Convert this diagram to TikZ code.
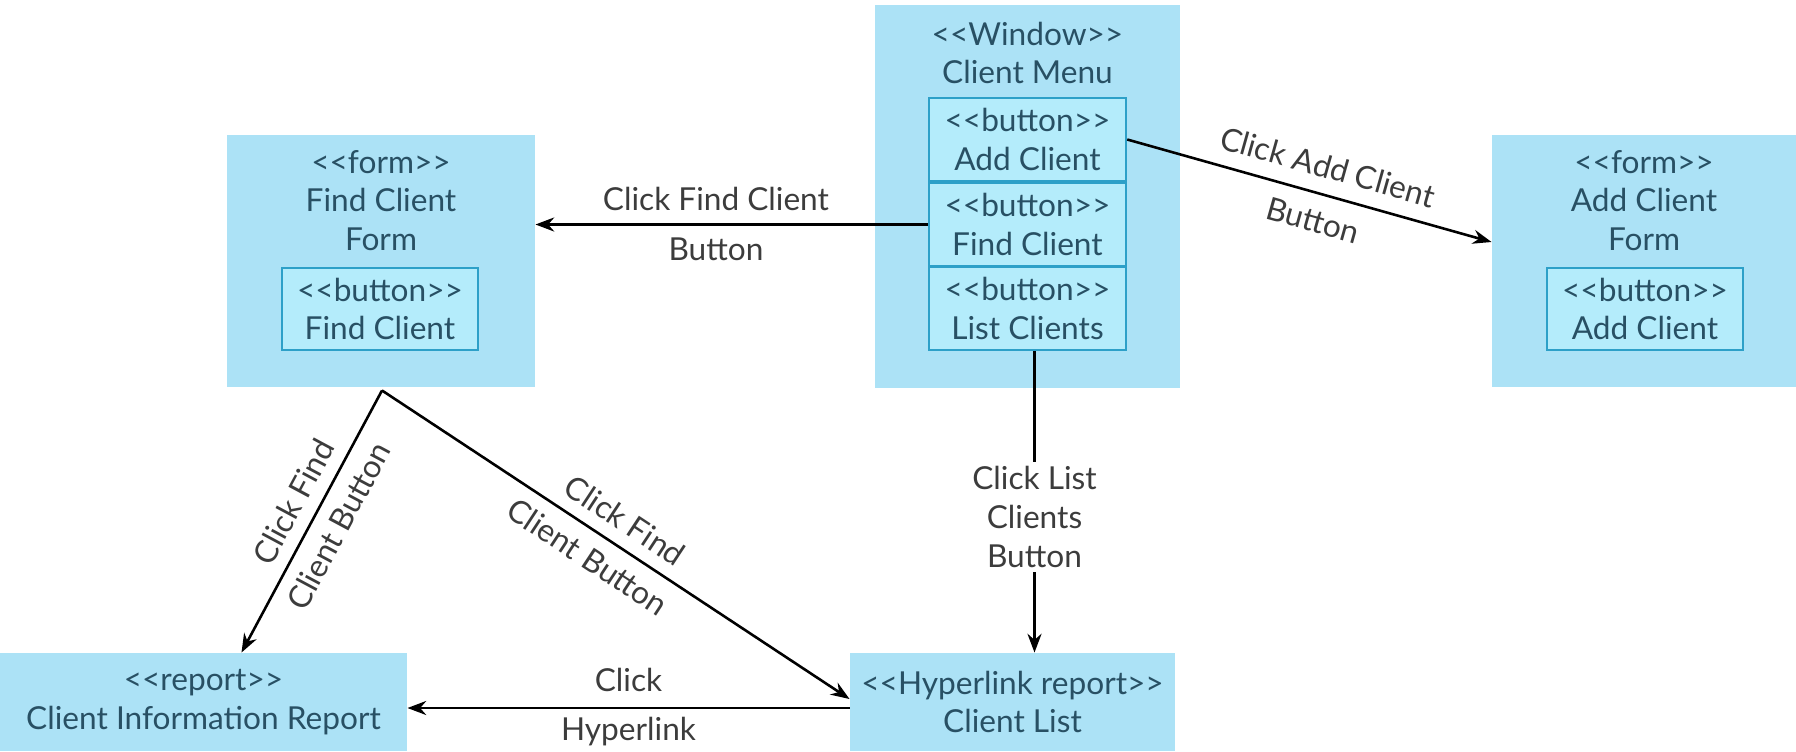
\documentclass[tikz,border=0pt]{standalone}
\usepackage{fontspec}
\setmainfont{Lato}[Ligatures=TeXOff]
\usetikzlibrary{arrows.meta,calc}
\definecolor{boxblue}{RGB}{172,226,246}
\definecolor{btnblue}{RGB}{180,236,251}
\definecolor{btnline}{RGB}{45,160,200}
\definecolor{boxtext}{RGB}{40,80,100}
\definecolor{labeltext}{RGB}{60,60,60}

\begin{document}
\begin{tikzpicture}[x=0.015cm,y=-0.015cm,
    font=\fontsize{13.5}{16.5}\selectfont,
    screen/.style={fill=boxblue,inner sep=0pt,text=boxtext,align=center},
    btn/.style={draw=btnline,line width=0.9pt,fill=btnblue,inner sep=0pt,text=boxtext,align=center,minimum width=2.96cm,minimum height=1.25cm},
    flow/.style={line width=1.1pt,-{Stealth[length=8pt,width=6pt]}},
    lbl/.style={text=labeltext,align=center}]
\useasboundingbox (0,0) rectangle (1796,751);

\node[screen,minimum width=4.575cm,minimum height=5.745cm] (menu) at (1027.5,196.5) {};
\node[screen] (menutitle) at (1027.5,53) {<<Window>>\\Client Menu};
\node[btn] (addbtn) at (1027.5,139.5) {<<button>>\\Add Client};
\node[btn] (findbtn) at (1027.5,224.5) {<<button>>\\Find Client};
\node[btn] (listbtn) at (1027.5,308.5) {<<button>>\\List Clients};

\node[screen,minimum width=4.62cm,minimum height=3.78cm] (findform) at (381,261) {};
\node[screen] (findformtitle) at (381,200.5) {<<form>>\\Find Client\\Form};
\node[btn,minimum width=2.94cm,minimum height=1.23cm] (findformbtn) at (380,309) {<<button>>\\Find Client};

\node[screen,minimum width=4.56cm,minimum height=3.78cm] (addform) at (1644,261) {};
\node[screen] (addformtitle) at (1644,200.5) {<<form>>\\Add Client\\Form};
\node[btn,minimum width=2.94cm,minimum height=1.23cm] (addformbtn) at (1645,309) {<<button>>\\Add Client};

\node[screen,minimum width=6.105cm,minimum height=1.47cm] (inforep) at (203.5,702) {<<report>>\\Client Information Report};
\node[screen,minimum width=4.875cm,minimum height=1.47cm] (clientlist) at (1012.5,702) {<<Hyperlink report>>\\Client List};

\coordinate (apex) at ($(findform.south)+(1,3)$);

\draw[flow] (findbtn.west) -- (findbtn.west -| findform.east)
    node[lbl,pos=0.54,above=2pt] {Click Find Client}
    node[lbl,pos=0.54,below=2pt] {Button};
\draw[flow] (addbtn.east) -- ($(addform.west)+(0,-19)$)
    node[lbl,pos=0.53,sloped,above=3pt] {Click Add Client}
    node[lbl,pos=0.53,sloped,below=3pt] {Button};
\draw[flow] ($(listbtn.south)+(7,0)$) -- ($(listbtn.south |- clientlist.north)+(7,0)$)
    node[lbl,pos=0.55,fill=white,inner sep=2pt] {Click List\\Clients\\Button};
\draw[flow] (apex) -- ($(inforep.north)+(38,0)$)
    node[lbl,pos=0.47,sloped,above=2pt] {Click Find}
    node[lbl,pos=0.47,sloped,below=2pt] {Client Button};
\draw[flow] (apex) -- ($(clientlist.west)+(0,-3)$)
    node[lbl,pos=0.49,sloped,above=2pt] {Click Find}
    node[lbl,pos=0.47,sloped,below=2pt] {Client Button};
\draw[flow] ($(clientlist.west)+(0,6)$) -- ($(inforep.east)+(0,6)$)
    node[lbl,midway,above=3pt] {Click}
    node[lbl,midway,below=0pt] {Hyperlink};
\end{tikzpicture}
\end{document}
